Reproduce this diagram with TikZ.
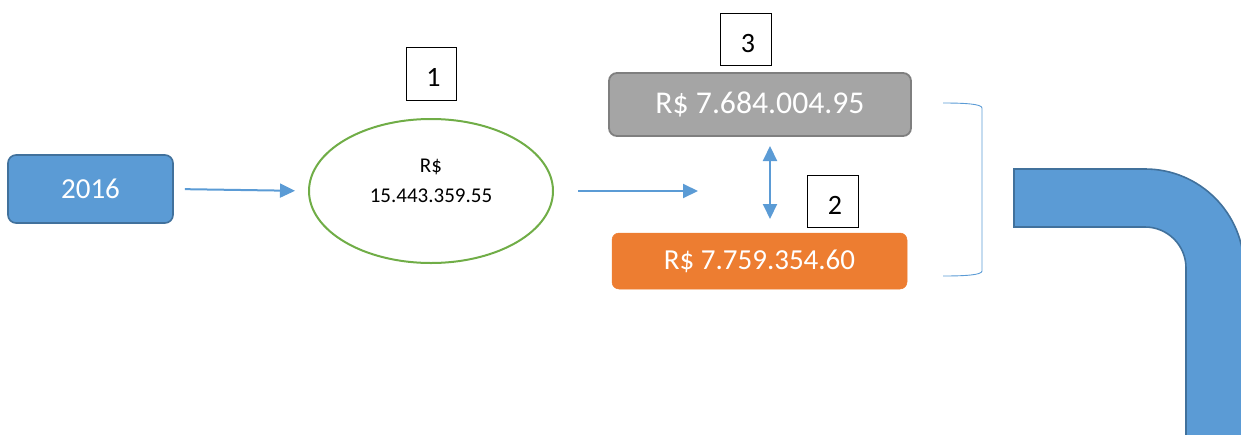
\documentclass[tikz,border=0pt]{standalone}
\usepackage{fontspec}
\setmainfont{Carlito}
\usetikzlibrary{arrows.meta,shapes.geometric}
\definecolor{obl}{HTML}{5B9BD5}
\definecolor{obld}{HTML}{41719C}
\definecolor{ogr}{HTML}{70AD47}
\definecolor{ogy}{HTML}{A5A5A5}
\definecolor{ogyd}{HTML}{7F7F7F}
\definecolor{oor}{HTML}{ED7D31}
\tikzset{
  bigtext/.style={font=\fontsize{29}{35}\selectfont},
  bluebox/.style={rectangle, rounded corners=8pt, fill=obl, draw=obld, line width=1.6pt, text=white, bigtext, inner sep=0pt},
  graybox/.style={rectangle, rounded corners=8pt, fill=ogy, draw=ogyd, line width=1.8pt, text=white, font=\fontsize{31.7}{38}\selectfont, inner sep=0pt},
  orangebox/.style={rectangle, rounded corners=7pt, fill=oor, draw=oor, line width=0.5pt, text=white, bigtext, inner sep=0pt},
  numbox/.style={rectangle, draw=black, line width=0.9pt, fill=white, font=\fontsize{28}{34}\selectfont, inner sep=0pt, text height=26pt, text depth=0pt},
  oval/.style={ellipse, draw=ogr, line width=2pt, inner sep=0pt},
  ovaltext/.style={font=\fontsize{21}{26}\selectfont, anchor=base, inner sep=0pt},
  conn/.style={draw=obl, line width=2pt, -{Triangle[length=15pt,width=14pt]}},
  dconn/.style={draw=obl, line width=2pt, {Triangle[length=15pt,width=14pt]}-{Triangle[length=15pt,width=14pt]}},
  brk/.style={draw=obl, line width=0.9pt},
  pipe/.style={fill=obl, draw=obld, line width=1.6pt}
}
\begin{document}
\begin{tikzpicture}[x=1pt,y=-1pt]
\useasboundingbox (0,0) rectangle (1241,434);
\clip (0,0) rectangle (1241,434);

% nodes
\node[bluebox, minimum width=165pt, minimum height=68pt] (y2016) at (90.5,189) {2016};
\node[oval, minimum width=244pt, minimum height=144pt] (e1) at (431,191) {};
\node[ovaltext] (e1a) at (431,172) {R\$};
\node[ovaltext] (e1b) at (431,202) {15.443.359.55};
\node[numbox, minimum width=50pt, minimum height=53pt] (n1) at (431,73.5) {\hspace{5pt}1};
\node[graybox, minimum width=302pt, minimum height=63pt] (g) at (760,104.5) {R\$ 7.684.004.95};
\node[orangebox, minimum width=295pt, minimum height=56pt] (o) at (759.5,261) {R\$ 7.759.354.60};
\node[numbox, minimum width=51pt, minimum height=52pt] (n3) at (745.5,39) {\hspace{5pt}3};
\node[numbox, minimum width=51pt, minimum height=52pt] (n2) at (832.5,201) {\hspace{5pt}2};

% connectors
\coordinate (a2end) at (698,191);
\coordinate (da1) at (770,146);
\coordinate (da2) at (770,219);
\draw[conn, shorten <=11pt, shorten >=13pt] (y2016.east) -- (e1.west);
\draw[conn, shorten <=24pt] (e1.east) -- (a2end);
\draw[dconn] (da1) -- (da2);

% bracket
\draw[brk] (943,103) .. controls (965,103) and (982,104) .. (982,108) -- (982,271) .. controls (982,275) and (965,276) .. (943,276);

% bent pipe shape
\draw[pipe] (1014,169) -- (1145,169) arc (-90:0:99) -- (1244,440) -- (1186,440) -- (1186,268) arc (0:-90:41) -- (1014,227) -- cycle;
\end{tikzpicture}
\end{document}
